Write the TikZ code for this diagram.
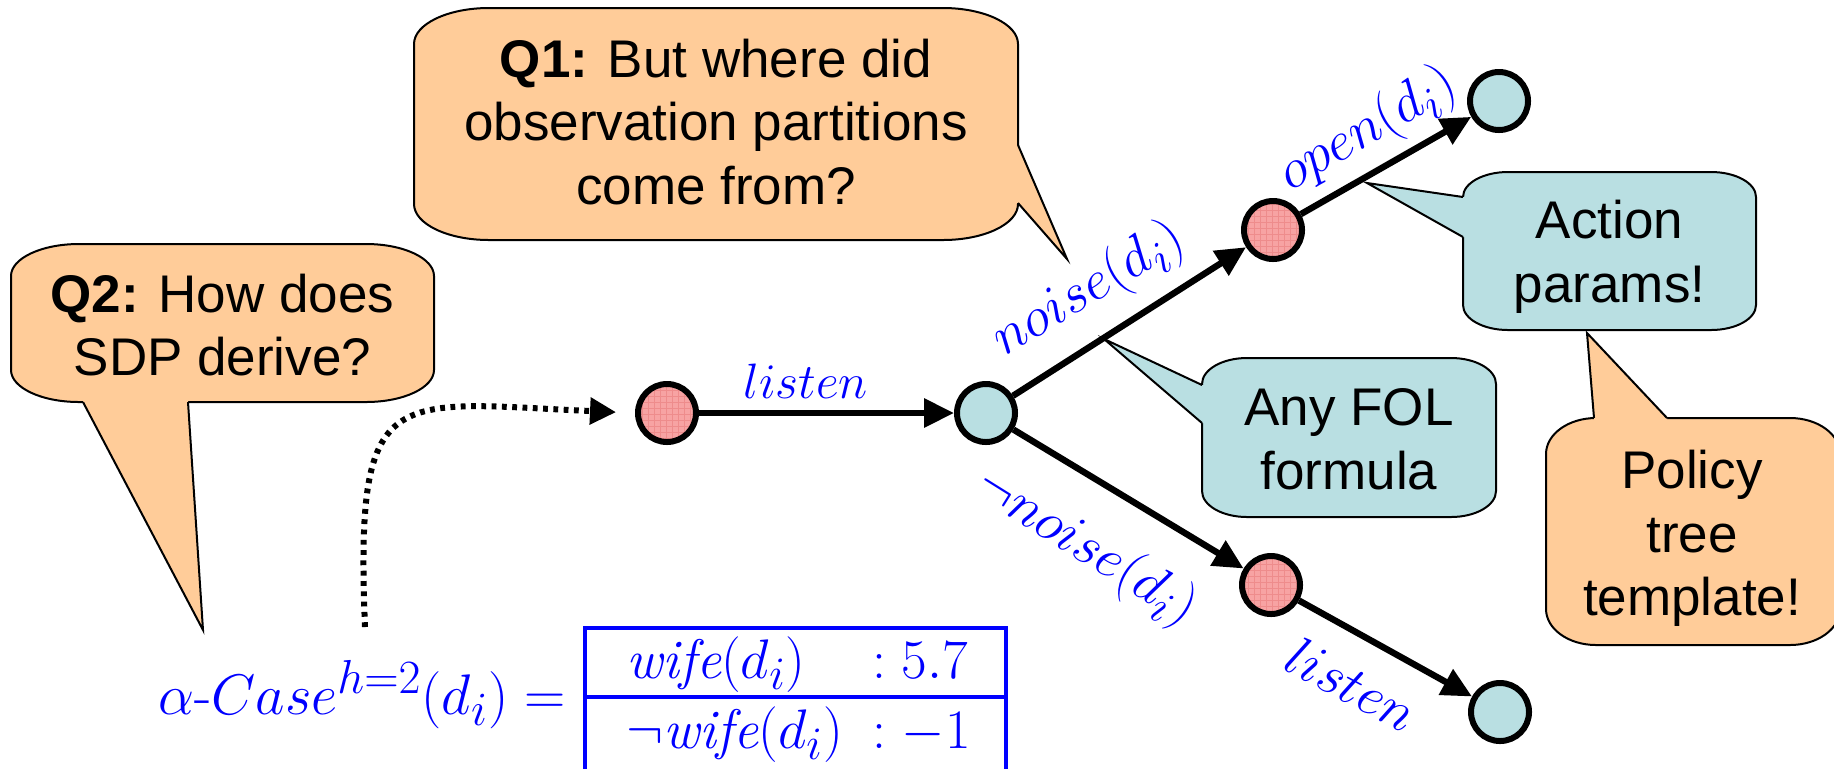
\RequirePackage{fix-cm}
\documentclass[tikz,border=0pt]{standalone}
\usepackage{fontspec}
\newfontfamily\arial{Liberation Sans}
\usetikzlibrary{arrows.meta,patterns}
\definecolor{peach}{RGB}{255,204,153}
\definecolor{aqua}{RGB}{185,223,226}
\definecolor{pinkn}{RGB}{247,163,163}
\definecolor{pinkgrid}{RGB}{238,140,140}
% rounded rectangle with elliptic corners: L T R B rx ry style
\newcommand{\bubblebox}[7]{%
  \draw[#7] (#1+#5,#2) -- (#3-#5,#2)
    .. controls +(0.5523*#5,0) and +(0,-0.5523*#6) .. (#3,#2+#6) -- (#3,#4-#6)
    .. controls +(0,0.5523*#6) and +(0.5523*#5,0) .. (#3-#5,#4) -- (#1+#5,#4)
    .. controls +(-0.5523*#5,0) and +(0,0.5523*#6) .. (#1,#4-#6) -- (#1,#2+#6)
    .. controls +(0,-0.5523*#6) and +(-0.5523*#5,0) .. (#1+#5,#2) -- cycle;}
\tikzset{
  bubline/.style={draw=black, line width=1pt},
  bubtext/.style={font=\arial\fontsize{26.5}{31.8}\selectfont, align=center, inner sep=0pt},
  statered/.style={circle, draw=black, line width=3pt, preaction={fill=pinkn}, pattern=grid, pattern color=pinkgrid, minimum size=29pt, inner sep=0pt},
  stateblue/.style={circle, draw=black, line width=3pt, fill=aqua, minimum size=29pt, inner sep=0pt},
  edgearrow/.style={line width=3.2pt, -{Triangle[length=15pt,width=14pt]}},
  dotarrow/.style={line width=3pt, dash pattern=on 2.4pt off 2.75pt, -{Triangle[length=13pt,width=13pt]}},
  mlab/.style={text=blue, font=\fontsize{24.88}{30}\selectfont, inner sep=0pt},
  mbig/.style={mlab, scale=1.12},
  tabline/.style={draw=blue, line width=1.8pt}
}
\begin{document}
\begin{tikzpicture}[x=0.5pt,y=-0.5pt]
\useasboundingbox (0,0) rectangle (1834,768);
\clip (0,0) rectangle (1834,768);

% ---- Q1 bubble
\bubblebox{414}{8}{1018}{240}{75}{36}{bubline, fill=peach}
\fill[peach] (1018,145) -- (1067,259) -- (1018,203) -- (1012,203) -- (1012,145) -- cycle;
\draw[bubline] (1018,145) -- (1067,259) -- (1018,203);
\node[bubtext] (q1) at (716,122) {{\bfseries Q1:} But where did\\observation partitions\\come from?};

% ---- Q2 bubble
\bubblebox{11}{244}{434}{402}{68}{32}{bubline, fill=peach}
\fill[peach] (83,402) -- (203,630) -- (188,402) -- (188,396) -- (83,396) -- cycle;
\draw[bubline] (83,402) -- (203,630) -- (188,402);
\node[bubtext] (q2) at (222.5,325) {{\bfseries Q2:} How does\\SDP derive?};

% ---- Action params bubble
\bubblebox{1463}{172}{1756}{330}{45}{25}{bubline, fill=aqua}
\fill[aqua] (1463,197) -- (1367,183) -- (1463,237) -- (1469,237) -- (1469,197) -- cycle;
\draw[bubline] (1463,197) -- (1367,183) -- (1463,237);
\node[bubtext] (act) at (1609.5,256.5) {Action\\params!};

% ---- Any FOL bubble
\bubblebox{1202}{358}{1496}{517}{45}{26}{bubline, fill=aqua}
\fill[aqua] (1202,385) -- (1104,339) -- (1202,423) -- (1208,423) -- (1208,385) -- cycle;
\draw[bubline] (1202,385) -- (1104,339) -- (1202,423);
\node[bubtext] (fol) at (1349,439) {Any FOL\\formula};

% ---- Policy bubble
\bubblebox{1546}{418}{1840}{645}{50}{36}{bubline, fill=peach}
\fill[peach] (1594,418) -- (1587,333) -- (1667,418) -- (1667,424) -- (1594,424) -- cycle;
\draw[bubline] (1594,418) -- (1587,333) -- (1667,418);
\node[bubtext] (pol) at (1692,538.5) {Policy\\tree\\template!};

% ---- policy tree nodes
\node[statered]  (n0) at (667,413) {};
\node[stateblue] (n1) at (986,413) {};
\node[statered]  (n2) at (1273,230) {};
\node[stateblue] (n3) at (1499,101) {};
\node[statered]  (n4) at (1271,585) {};
\node[stateblue] (n5) at (1500,712) {};

\draw[edgearrow] (n0) -- (n1);
\draw[edgearrow] (n1) -- (n2);
\draw[edgearrow] (n2) -- (n3);
\draw[edgearrow] (n1) -- (n4);
\draw[edgearrow] (n4) -- (n5);

\node[mlab, anchor=base] (l1) at (806,398) {$listen$};
\node[mbig, rotate=31] (l2) at (1089,290) {$noise(d_i)$};
\node[mbig, rotate=30] (l3) at (1368,130) {$open(d_i)$};
\node[mbig, rotate=-32] (l4) at (1086,548) {$\neg noise(d_i)$};
\node[mbig, rotate=-28] (l5) at (1352,684) {$listen$};

% ---- alpha case
\node[mlab, scale=1.15, anchor=base east] (ac) at (566,714) {$\alpha$-$Case^{h=2}(d_i) =$};
\draw[tabline] (585,790) -- (585,628) -- (1006,628) -- (1006,790);
\draw[tabline] (585,697) -- (1006,697);
\node[mbig, anchor=base west] (r1a) at (626,678) {$\mathit{wife}(d_i)$};
\node[mbig, anchor=base west] (r1b) at (872,678) {$:5.7$};
\node[mbig, anchor=base west] (r2a) at (626,748) {$\neg\mathit{wife}(d_i)$};
\node[mbig, anchor=base west] (r2b) at (872,748) {$:-1$};

\coordinate (dotstart) at (365,627);
\draw[dotarrow, shorten >=9.5pt] (dotstart) .. controls (355,380) and (390,402) .. (n0.west);
\end{tikzpicture}
\end{document}
